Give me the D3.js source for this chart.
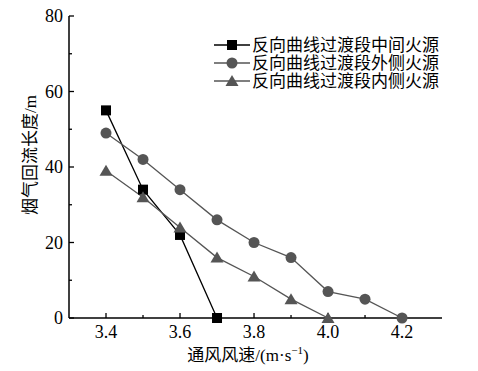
<!DOCTYPE html>
<html lang="en">
<head>
<meta charset="utf-8">
<script src="https://cdn.jsdelivr.net/npm/d3@7"></script>
<style>
  body { margin: 0; background: #fff; }
</style>
</head>
<body>
<div id="chart"></div>
<script>
// data
var seriesNames = ["反向曲线过渡段中间火源", "反向曲线过渡段外侧火源", "反向曲线过渡段内侧火源"];
var middleX = [3.4, 3.5, 3.6, 3.7];
var middleY = [55, 34, 22, 0];
var outerX = [3.4, 3.5, 3.6, 3.7, 3.8, 3.9, 4.0, 4.1, 4.2];
var outerY = [49, 42, 34, 26, 20, 16, 7, 5, 0];
var innerX = [3.4, 3.5, 3.6, 3.7, 3.8, 3.9, 4.0];
var innerY = [39, 32, 24, 16, 11, 5, 0];
var xTicks = [3.4, 3.6, 3.8, 4.0, 4.2];
var xMinor = [3.5, 3.7, 3.9, 4.1];
var yTicks = [0, 20, 40, 60, 80];
var yMinor = [10, 30, 50, 70];

var width = 478, height = 371;
var serif = "'Liberation Serif'";
var mixed = "'Liberation Serif', 'Noto Sans CJK SC', serif";

var svg = d3.select("#chart").append("svg")
  .attr("width", width)
  .attr("height", height);

var x = d3.scaleLinear().domain([3.3, 4.308]).range([69, 442]);
var y = d3.scaleLinear().domain([0, 80]).range([318, 16]);

// axes with inward ticks
var xAxis = svg.append("g").attr("transform", "translate(0," + y(0) + ")");
xAxis.append("line")
  .attr("x1", x.range()[0]).attr("x2", x.range()[1])
  .attr("stroke", "#000").attr("stroke-width", 1.5);
xAxis.selectAll(".maj").data(xTicks).enter().append("line")
  .attr("x1", function(d){ return x(d); }).attr("x2", function(d){ return x(d); })
  .attr("y1", 0).attr("y2", -5)
  .attr("stroke", "#000").attr("stroke-width", 1.3);
xAxis.selectAll(".min").data(xMinor).enter().append("line")
  .attr("x1", function(d){ return x(d); }).attr("x2", function(d){ return x(d); })
  .attr("y1", 0).attr("y2", -3)
  .attr("stroke", "#000").attr("stroke-width", 1.3);
xAxis.selectAll("text").data(xTicks).enter().append("text")
  .attr("x", function(d){ return x(d); })
  .attr("y", 20)
  .attr("text-anchor", "middle")
  .attr("font-size", 18)
  .style("font-family", serif)
  .text(function(d){ return d3.format(".1f")(d); });

var yAxis = svg.append("g").attr("transform", "translate(" + x.range()[0] + ",0)");
yAxis.append("line")
  .attr("y1", y(0)).attr("y2", y(80))
  .attr("stroke", "#000").attr("stroke-width", 1.5);
yAxis.selectAll(".maj").data(yTicks).enter().append("line")
  .attr("y1", function(d){ return y(d); }).attr("y2", function(d){ return y(d); })
  .attr("x1", 0).attr("x2", 5)
  .attr("stroke", "#000").attr("stroke-width", 1.3);
yAxis.selectAll(".min").data(yMinor).enter().append("line")
  .attr("y1", function(d){ return y(d); }).attr("y2", function(d){ return y(d); })
  .attr("x1", 0).attr("x2", 3)
  .attr("stroke", "#000").attr("stroke-width", 1.3);
yAxis.selectAll("text").data(yTicks).enter().append("text")
  .attr("x", -6)
  .attr("y", function(d){ return y(d) + 6; })
  .attr("text-anchor", "end")
  .attr("font-size", 18)
  .style("font-family", serif)
  .text(function(d){ return d; });

// axis titles
svg.append("text")
  .attr("lang", "zh-CN")
  .attr("transform", "translate(36,155) rotate(-90)")
  .attr("text-anchor", "middle")
  .attr("font-size", 17)
  .style("font-family", mixed)
  .text("烟气回流长度/m");

var xt = svg.append("text")
  .attr("lang", "zh-CN")
  .attr("x", 248).attr("y", 361)
  .attr("text-anchor", "middle")
  .attr("font-size", 17)
  .style("font-family", mixed);
xt.append("tspan").text("通风风速/(m·s");
xt.append("tspan").attr("font-size", 11).attr("dy", -7).text("−1");
xt.append("tspan").attr("dy", 7).text(")");

// series
var line = d3.line()
  .x(function(d){ return x(d[0]); })
  .y(function(d){ return y(d[1]); });

var series = [
  { xs: middleX, ys: middleY, col: "#000", shape: "square" },
  { xs: outerX, ys: outerY, col: "#555", shape: "circle" },
  { xs: innerX, ys: innerY, col: "#555", shape: "triangle" }
];

function drawMarker(g, shape, cx, cy, col) {
  if (shape == "square") {
    g.append("rect").attr("x", cx - 5).attr("y", cy - 5)
      .attr("width", 10).attr("height", 10).attr("fill", col);
  } else if (shape == "circle") {
    g.append("circle").attr("cx", cx).attr("cy", cy).attr("r", 5.5).attr("fill", col);
  } else {
    g.append("path")
      .attr("d", "M" + cx + "," + (cy - 6) + "L" + (cx + 6.5) + "," + (cy + 5) + "L" + (cx - 6.5) + "," + (cy + 5) + "Z")
      .attr("fill", col);
  }
}

// draw lines first, markers on top
series.forEach(function(s){
  var pts = s.xs.map(function(v, i){ return [v, s.ys[i]]; });
  svg.append("path")
    .attr("d", line(pts))
    .attr("fill", "none")
    .attr("stroke", s.col)
    .attr("stroke-width", 1.3);
});
series.forEach(function(s){
  var g = svg.append("g");
  s.xs.forEach(function(v, i){ drawMarker(g, s.shape, x(v), y(s.ys[i]), s.col); });
});

// legend
var legendY = [45, 63, 81];
series.forEach(function(s, i){
  var g = svg.append("g");
  g.append("line")
    .attr("x1", 214).attr("x2", 250)
    .attr("y1", legendY[i]).attr("y2", legendY[i])
    .attr("stroke", s.col).attr("stroke-width", 1.3);
  drawMarker(g, s.shape, 232, legendY[i], s.col);
  g.append("text")
    .attr("lang", "zh-CN")
    .attr("x", 252).attr("y", legendY[i] + 6)
    .attr("font-size", 17)
    .style("font-family", mixed)
    .text(seriesNames[i]);
});
</script>
</body>
</html>
